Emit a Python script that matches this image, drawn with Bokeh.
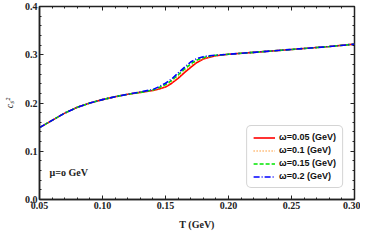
from bokeh.plotting import figure
from bokeh.models import (LinearAxis, Range1d, Legend, LegendItem, SingleIntervalTicker, Label,
                          CustomJSTickFormatter)
from bokeh.embed import file_html
from bokeh.resources import INLINE

T = [0.05, 0.06, 0.07, 0.08, 0.09, 0.10, 0.11, 0.12, 0.13, 0.14, 0.145, 0.15, 0.155, 0.16,
     0.165, 0.17, 0.175, 0.18, 0.185, 0.19, 0.20, 0.22, 0.25, 0.28, 0.30]
cs2_w005 = [0.149, 0.164, 0.179, 0.191, 0.200, 0.207, 0.213, 0.218, 0.222, 0.226, 0.229, 0.233, 0.241, 0.251,
            0.263, 0.274, 0.284, 0.291, 0.295, 0.298, 0.301, 0.305, 0.311, 0.317, 0.322]
cs2_w01 = [0.149, 0.164, 0.179, 0.191, 0.200, 0.207, 0.213, 0.218, 0.222, 0.226, 0.230, 0.235, 0.244, 0.254,
           0.266, 0.277, 0.287, 0.292, 0.296, 0.298, 0.301, 0.305, 0.311, 0.317, 0.322]
cs2_w015 = [0.149, 0.164, 0.179, 0.191, 0.200, 0.207, 0.213, 0.218, 0.222, 0.227, 0.232, 0.238, 0.247, 0.258,
            0.270, 0.281, 0.289, 0.294, 0.297, 0.299, 0.301, 0.305, 0.311, 0.317, 0.322]
cs2_w02 = [0.149, 0.164, 0.179, 0.191, 0.200, 0.207, 0.213, 0.218, 0.223, 0.228, 0.234, 0.241, 0.250, 0.262,
           0.274, 0.285, 0.292, 0.296, 0.298, 0.299, 0.301, 0.305, 0.311, 0.317, 0.322]
labels = ["ω=0.05 (GeV)", "ω=0.1 (GeV)", "ω=0.15 (GeV)", "ω=0.2 (GeV)"]
colors = ["#ff0000", "#ff9933", "#00e600", "#0000ff"]
dashes = ["solid", "1 2", "4 2", "6 2 1 2"]

p = figure(width=360, height=232, output_backend="svg", toolbar_location=None,
           x_range=Range1d(0.05, 0.300001), y_range=Range1d(0.0, 0.400001),
           min_border_left=30, min_border_right=6, min_border_top=6, min_border_bottom=0)
p.background_fill_color = "white"
p.border_fill_color = "white"
p.outline_line_color = "#222222"
p.outline_line_width = 1.5
p.xgrid.visible = False
p.ygrid.visible = False

serif = "Liberation Serif"

def style(ax, show_labels=True):
    ax.major_tick_in = 4
    ax.major_tick_out = 0
    ax.minor_tick_in = 2
    ax.minor_tick_out = 0
    ax.axis_line_color = "#222222"
    ax.axis_line_width = 1.5
    ax.major_tick_line_color = "#222222"
    ax.minor_tick_line_color = "#222222"
    ax.major_label_text_font = serif
    ax.major_label_text_font_style = "bold"
    ax.major_label_text_font_size = "10px"
    ax.major_label_text_color = "#222222"
    ax.major_label_standoff = 2
    if not show_labels:
        ax.major_label_text_font_size = "0px"
        ax.major_label_standoff = 0
        ax.formatter = CustomJSTickFormatter(code="return '';")
        ax.axis_line_color = None

bottom = p.below[0]
left = p.left[0]
bottom.ticker = SingleIntervalTicker(interval=0.05, num_minor_ticks=5)
left.ticker = SingleIntervalTicker(interval=0.1, num_minor_ticks=5)
style(bottom)
style(left)
bottom.formatter = CustomJSTickFormatter(code="return tick.toFixed(2);")
left.formatter = CustomJSTickFormatter(code="return tick.toFixed(1);")

bottom.axis_label = "T (GeV)"
left.axis_label = "cₛ²"
for ax, st in ((bottom, "bold"), (left, "italic")):
    ax.axis_label_text_font = serif
    ax.axis_label_text_font_style = st
    ax.axis_label_text_font_size = "10px"
    ax.axis_label_text_color = "#222222"
    ax.axis_label_standoff = 7

top = LinearAxis(ticker=SingleIntervalTicker(interval=0.05, num_minor_ticks=5))
style(top, False)
p.add_layout(top, "above")
right = LinearAxis(ticker=SingleIntervalTicker(interval=0.1, num_minor_ticks=5))
style(right, False)
p.add_layout(right, "right")

items = []
for ys, lab, c, d in zip([cs2_w005, cs2_w01, cs2_w015, cs2_w02], labels, colors, dashes):
    r = p.line(T, ys, line_color=c, line_width=1.6, line_dash=d)
    items.append(LegendItem(label=lab, renderers=[r]))

leg = Legend(items=items, location="bottom_right")
leg.label_text_font = "Liberation Sans"
leg.label_text_font_size = "9px"
leg.label_text_font_style = "bold"
leg.label_text_color = "#111111"
leg.label_height = 9
leg.glyph_height = 9
leg.glyph_width = 22
leg.spacing = 3
leg.padding = 6
leg.label_standoff = 4
leg.margin = 11
leg.border_line_color = "#aaaaaa"
leg.border_line_width = 1
leg.border_radius = 5
leg.background_fill_alpha = 1
p.add_layout(leg)

p.add_layout(Label(x=0.058, y=0.045, text="μ=o GeV", text_font=serif, text_font_style="bold",
                   text_font_size="10px", text_color="#222222"))

open("out.html", "w").write(file_html(p, INLINE))
